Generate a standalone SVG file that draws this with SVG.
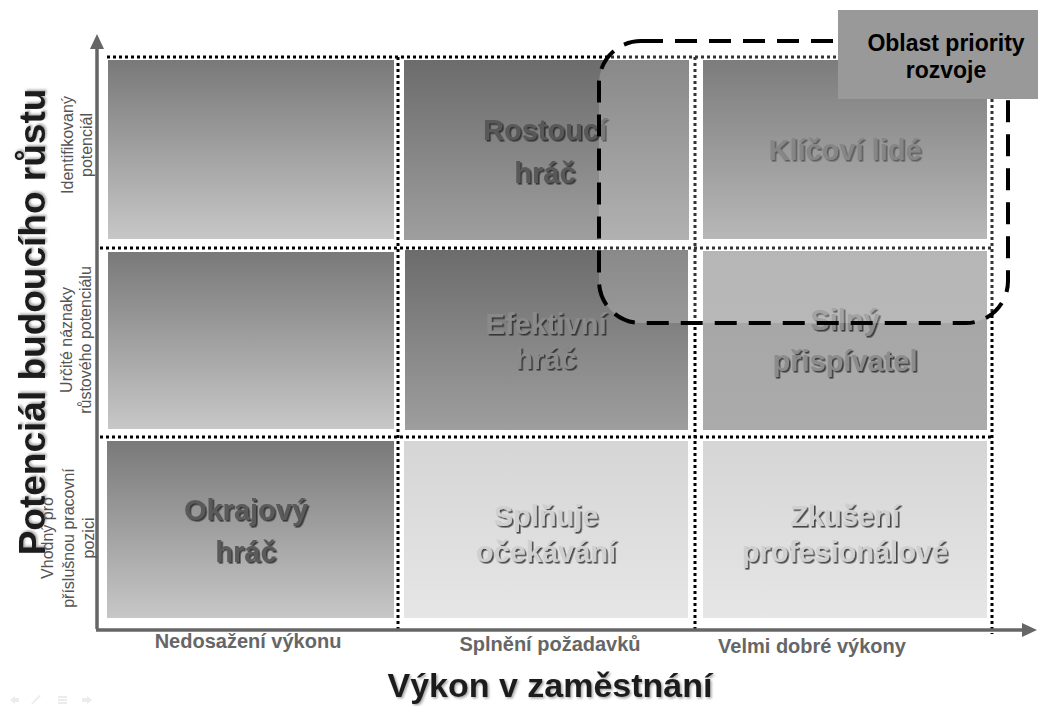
<svg xmlns="http://www.w3.org/2000/svg" width="1038" height="706" viewBox="0 0 1038 706">
<defs>
<style>
.cellLbl{font-family:"Liberation Sans",Arial,sans-serif;font-weight:bold;font-size:29px;text-anchor:middle;filter:url(#sh)}
.axLbl{font-family:"Liberation Sans",Arial,sans-serif;font-weight:bold;font-size:20px;fill:#666;text-anchor:middle}
.side{font-family:"Liberation Sans",Arial,sans-serif;font-size:16px;fill:#555;text-anchor:middle}
.title{font-family:"Liberation Sans",Arial,sans-serif;font-weight:bold;fill:#1e1e1e;text-anchor:middle;filter:url(#tsh)}
.dot{stroke:#000;stroke-width:3;stroke-dasharray:3 3;fill:none}
.axis{stroke:#666;stroke-width:3.5;fill:none}
</style>
<linearGradient id="gLeft" x1="0" y1="0" x2="0" y2="1"><stop offset="0" stop-color="#797979"/><stop offset="1" stop-color="#c7c7c7"/></linearGradient>
<linearGradient id="gMid" x1="0" y1="0" x2="0" y2="1"><stop offset="0" stop-color="#6c6c6c"/><stop offset="1" stop-color="#9e9e9e"/></linearGradient>
<linearGradient id="gKey" x1="0" y1="0" x2="0" y2="1"><stop offset="0" stop-color="#5c5c5c"/><stop offset="1" stop-color="#a6a6a6"/></linearGradient>
<linearGradient id="gStrong" x1="0" y1="0" x2="0" y2="1"><stop offset="0" stop-color="#a4a4a4"/><stop offset="1" stop-color="#ababab"/></linearGradient>
<linearGradient id="gLight" x1="0" y1="0" x2="0" y2="1"><stop offset="0" stop-color="#d5d5d5"/><stop offset="1" stop-color="#e6e6e6"/></linearGradient>
<filter id="sh" x="-10%" y="-30%" width="130%" height="170%"><feDropShadow dx="1.6" dy="1.6" stdDeviation="0.7" flood-color="#222" flood-opacity="0.8"/></filter>
<filter id="tsh" x="-10%" y="-30%" width="130%" height="170%"><feDropShadow dx="1.5" dy="1.5" stdDeviation="1.2" flood-color="#000" flood-opacity="0.35"/></filter>
</defs>
<rect width="1038" height="706" fill="#fff"/>

<g id="cell-r1c1"><rect x="108" y="60" width="286" height="179" fill="url(#gLeft)"/></g>
<g id="cell-r2c1"><rect x="108" y="252" width="286" height="177" fill="url(#gLeft)"/></g>
<g id="cell-okrajovy"><rect x="107" y="441" width="287" height="177" fill="url(#gLeft)"/>
<text class="cellLbl" fill="#5a5a5a"><tspan x="246" y="520">Okrajový</tspan><tspan x="246" y="562">hráč</tspan></text></g>
<g id="cell-rostouci"><rect x="404" y="60" width="285" height="180" fill="url(#gMid)"/>
<text class="cellLbl" fill="#585858"><tspan x="545" y="140">Rostoucí</tspan><tspan x="545" y="183">hráč</tspan></text></g>
<g id="cell-efektivni"><rect x="405" y="250" width="283" height="180" fill="url(#gMid)"/>
<text class="cellLbl" fill="#8a8a8a"><tspan x="546" y="334">Efektivní</tspan><tspan x="546" y="369">hráč</tspan></text></g>
<g id="cell-splnuje"><rect x="404" y="441" width="284" height="177" fill="url(#gLight)"/>
<text class="cellLbl" fill="#d0d0d0"><tspan x="546" y="526">Splňuje</tspan><tspan x="546" y="562">očekávání</tspan></text></g>
<g id="cell-klicovi"><rect x="703" y="60" width="284" height="179" fill="url(#gKey)"/>
<text class="cellLbl" fill="#686868" x="845" y="160">Klíčoví lidé</text></g>
<g id="cell-silny"><rect x="703" y="251" width="284" height="179" fill="url(#gStrong)"/>
<text class="cellLbl" fill="#8c8c8c"><tspan x="845" y="330">Silný</tspan><tspan x="845" y="371">přispívatel</tspan></text></g>
<g id="cell-zkuseni"><rect x="703" y="441" width="284" height="177" fill="url(#gLight)"/>
<text class="cellLbl" fill="#d0d0d0"><tspan x="845" y="526">Zkušení</tspan><tspan x="845" y="562">profesionálové</tspan></text></g>

<g id="grid">
<line class="dot" x1="107" y1="57" x2="994" y2="57"/>
<line class="dot" x1="100" y1="248" x2="994" y2="248"/>
<line class="dot" x1="100" y1="437" x2="994" y2="437"/>
<line class="dot" x1="398" y1="57" x2="398" y2="630"/>
<line class="dot" x1="695" y1="57" x2="695" y2="630"/>
<line class="dot" x1="992" y1="57" x2="992" y2="634"/>
</g>

<g id="connectors">
<g id="axes">
<line class="axis" x1="97" y1="629" x2="97" y2="46"/>
<polygon points="97,34 90,49 104,49" fill="#666"/>
<line class="axis" x1="96" y1="630" x2="1024" y2="630"/>
<polygon points="1037,630 1022,623 1022,637" fill="#666"/>
</g>
</g>

<g id="priority-area">
<rect x="599" y="41" width="409" height="282" rx="42" ry="42" fill="#fff" fill-opacity="0.2" stroke="#000" stroke-width="4" stroke-dasharray="22 12"/>
</g>

<g id="priority-label">
<rect x="838" y="10" width="200" height="89" fill="#999"/>
<text font-family="'Liberation Sans',Arial,sans-serif" font-weight="bold" font-size="23" fill="#000" text-anchor="middle"><tspan x="946" y="51">Oblast priority</tspan><tspan x="946" y="78">rozvoje</tspan></text>
</g>

<g id="x-labels">
<text class="axLbl" x="248" y="648">Nedosažení výkonu</text>
<text class="axLbl" x="550" y="651">Splnění požadavků</text>
<text class="axLbl" x="812" y="653">Velmi dobré výkony</text>
<text class="title" font-size="34" x="550" y="697">Výkon v zaměstnání</text>
</g>

<g id="y-labels">
<text class="title" font-size="37" transform="translate(45,322) rotate(-90)" x="0" y="0">Potenciál budoucího růstu</text>
<text class="side" transform="translate(73,145) rotate(-90)"><tspan x="0" y="0">Identifikovaný</tspan><tspan x="0" y="19">potenciál</tspan></text>
<text class="side" transform="translate(72,340) rotate(-90)"><tspan x="0" y="0">Určité náznaky</tspan><tspan x="0" y="19">růstového  potenciálu</tspan></text>
<text class="side" transform="translate(53,538) rotate(-90)"><tspan x="0" y="0">Vhodný pro</tspan><tspan x="0" y="21">příslušnou  pracovní</tspan><tspan x="0" y="41">pozici</tspan></text>
</g>

<g id="nav-icons" fill="#ececec">
<polygon points="10,700 15,696 15,698 19,698 19,702 15,702 15,704"/>
<polygon points="31,704 33,704 41,696 39,695"/>
<rect x="58" y="696" width="9" height="2"/><rect x="58" y="699" width="9" height="2"/><rect x="58" y="702" width="9" height="2"/>
<polygon points="92,700 87,696 87,698 82,698 82,702 87,702 87,704"/>
</g>
</svg>
